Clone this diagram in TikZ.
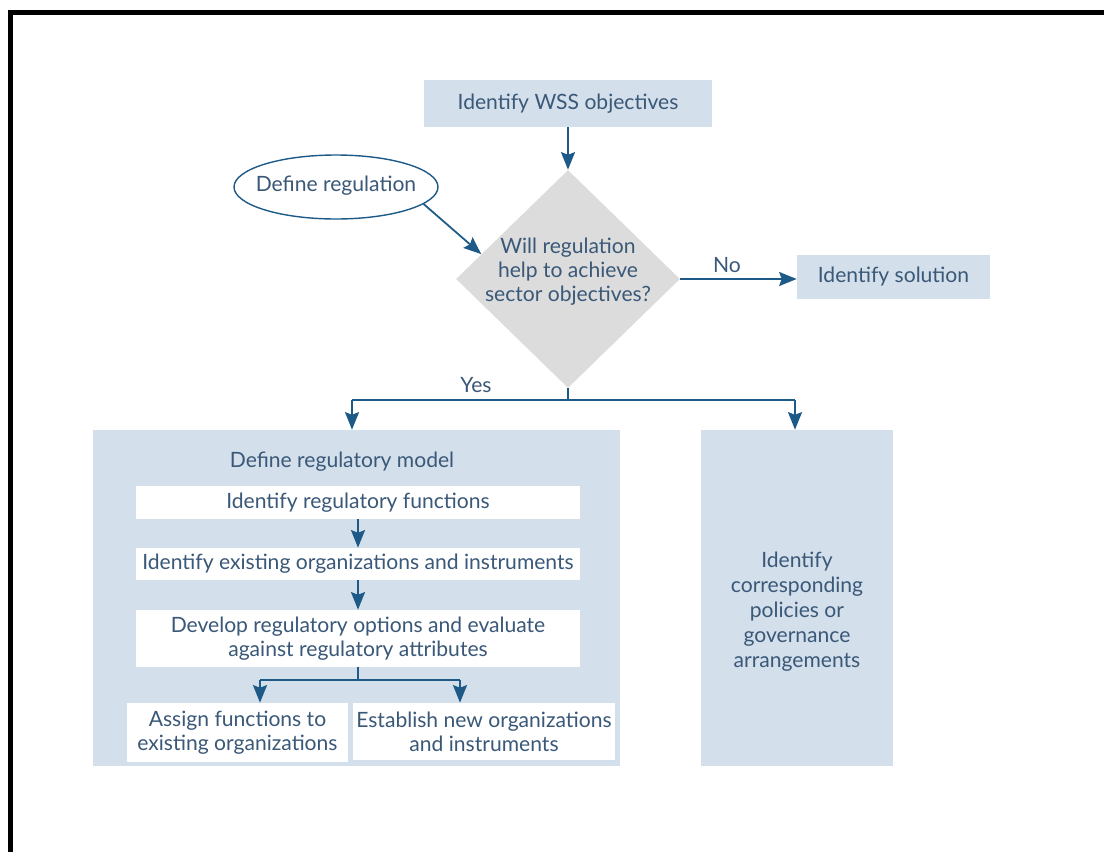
\documentclass[tikz,border=0pt]{standalone}
\usepackage{fontspec}
\setmainfont{Lato}
\usetikzlibrary{shapes.geometric,arrows.meta}

\definecolor{boxblue}{HTML}{D3DFEA}
\definecolor{diagray}{HTML}{DCDCDC}
\definecolor{txtblue}{HTML}{3A5878}
\definecolor{arrblue}{HTML}{1E5A87}

\begin{document}
\begin{tikzpicture}[x=0.02cm, y=-0.02cm, font=\fontsize{12}{13.6}\selectfont,
  blubox/.style={fill=boxblue, text=txtblue, inner sep=0pt, align=center},
  whtbox/.style={fill=white, text=txtblue, inner sep=0pt, align=center},
  arr/.style={draw=arrblue, line width=1pt, -{Stealth[length=10pt, width=8pt, inset=1.5pt]}},
  lin/.style={draw=arrblue, line width=1pt}]

  \useasboundingbox (0,0) rectangle (1104,852);
  % frame: top and left edge only
  \fill (8,10) rectangle (1104,15);
  \fill (8,10) rectangle (13,852);

  \node[blubox, minimum width=5.76cm, minimum height=0.94cm] (wss) at (568,103.5) {Identify WSS objectives};
  \node[diamond, fill=diagray, inner sep=0pt,
        minimum width=4.48cm, minimum height=4.36cm] (help) at (568,279) {};
  \node[text=txtblue, align=center] (helptext) at (568,272)
        {Will regulation\\help to achieve\\sector objectives?};
  \node[ellipse, draw=arrblue, line width=0.8pt, fill=white, inner sep=0pt,
        minimum width=4.08cm, minimum height=1.28cm] (defreg) at (336,187) {};
  \node[text=txtblue] (defregtext) at (336,186) {Define regulation};
  \node[blubox, minimum width=3.86cm, minimum height=0.88cm] (sol) at (893.5,277) {Identify solution};

  % regulatory model block
  \node[blubox, minimum width=10.54cm, minimum height=6.72cm] (model) at (356.5,598) {};
  \node[text=txtblue] (modeltitle) at (342,462) {Define regulatory model};
  \node[whtbox, minimum width=8.88cm, minimum height=0.66cm] (fun) at (358,502.5) {Identify regulatory functions};
  \node[whtbox, minimum width=8.88cm, minimum height=0.64cm] (exist) at (358,564) {Identify existing organizations and instruments};
  \node[whtbox, minimum width=8.88cm, minimum height=1.14cm] (opt) at (358,638.5)
        {Develop regulatory options and evaluate\\against regulatory attributes};
  \node[whtbox, minimum width=4.42cm, minimum height=1.18cm] (assign) at (237.5,732.5)
        {Assign functions to\\existing organizations};
  \node[whtbox, minimum width=5.24cm, minimum height=1.14cm] (estab) at (484,731.5)
        {Establish new organizations\\and instruments};

  % policies block
  \node[blubox, minimum width=3.84cm, minimum height=6.72cm] (gov) at (797,598) {};
  \node[text=txtblue, align=center, font=\fontsize{12}{14.2}\selectfont] (govtext) at (797,612)
        {Identify\\corresponding\\policies or\\governance\\arrangements};

  % connectors
  \draw[arr] (wss.south) -- (help.north);
  \draw[arr] (defreg.-11) -- (help.164);
  \draw[arr] (help.east) -- (help.east -| sol.west) node[pos=0.4, above, text=txtblue] (no) {No};

  \coordinate (yesL) at (352,400);
  \coordinate (yesR) at (795,400);
  \draw[lin] (help.south) -- (help.south |- yesL);
  \draw[lin] (yesL) -- (yesR);
  \draw[arr] (yesL) -- (yesL |- model.north);
  \draw[arr] (yesR) -- (yesR |- gov.north);
  \node[text=txtblue] (yes) at (476,385) {Yes};

  \draw[arr] (fun.south) -- (exist.north);
  \draw[arr] (exist.south) -- (opt.north);
  \coordinate (splitL) at (260,680);
  \coordinate (splitR) at (460,680);
  \draw[lin] (opt.south) -- (opt.south |- splitL);
  \draw[lin] (splitL) -- (splitR);
  \draw[arr] (splitL) -- (splitL |- assign.north);
  \draw[arr] (splitR) -- (splitR |- estab.north);
\end{tikzpicture}
\end{document}
